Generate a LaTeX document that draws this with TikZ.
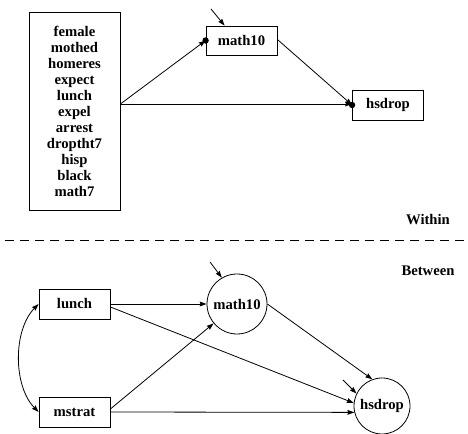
\documentclass[tikz,border=0pt]{standalone}
\usepackage{fontspec}
\setmainfont{Liberation Serif}
\usetikzlibrary{arrows.meta,calc}
\begin{document}
\begin{tikzpicture}[x=0.75pt,y=-0.75pt,
  every node/.style={font=\bfseries\fontsize{11}{12}\selectfont, inner sep=0pt},
  rbox/.style={draw, line width=0.6pt, minimum width=53.25pt, minimum height=22.5pt},
  circ/.style={draw, line width=0.6pt, circle},
  arr/.style={line width=0.6pt, -{Stealth[length=5.2pt,width=3.6pt,inset=0.6pt]}},
  darr/.style={line width=0.6pt, {Stealth[length=5.2pt,width=3.6pt,inset=0.6pt]}-{Stealth[length=5.2pt,width=3.6pt,inset=0.6pt]}},
  plain/.style={font=\bfseries\fontsize{11}{12}\selectfont}]
\useasboundingbox (0,0) rectangle (468,434);
% ---------- Within ----------
\node[draw, line width=0.6pt, minimum width=68.25pt, minimum height=148.5pt, align=center] (X) at (74.5,111)
  {female\\mothed\\homeres\\expect\\lunch\\expel\\arrest\\droptht7\\hisp\\black\\math7};
\node[rbox, minimum height=21.75pt] (M1) at (241.5,40.5) {math10};
\node[rbox] (H1) at (388,105) {hsdrop};
\coordinate (Xo) at ($(X.east)+(0,-7)$);
\fill (M1.west) circle (3.2);
\fill (H1.west) circle (3.2);
\draw[arr] (Xo) -- (M1.west);
\draw[arr] (Xo) -- (Xo -| H1.west);
\draw[arr] ($(M1.east)+(0,-1)$) -- (H1.west);
\coordinate (r1) at (211,9);
\draw[arr] (r1) -- ($(M1.north west)+(19,0)$);
% ---------- separator ----------
\node[plain] (W) at (428,220) {Within};
\draw[line width=0.6pt, dash pattern=on 6.75pt off 4.5pt] (5,240) -- (468,240);
\node[plain] (B) at (428,271) {Between};
% ---------- Between ----------
\node[rbox] (L2) at (74.5,304) {lunch};
\node[rbox] (S2) at (74.5,412) {mstrat};
\node[circ, minimum size=45pt] (M2) at (237,304) {math10};
\node[circ, minimum size=42pt] (H2) at (382,406) {hsdrop};
\draw[darr] (L2.west) .. controls (13,330) and (13,386) .. (S2.west);
\draw[arr] (L2.east) -- (M2.west);
\draw[arr] ($(L2.east)+(0,3)$) -- (H2.174);
\draw[arr] ($(S2.east)+(0,-3)$) -- (M2);
\draw[arr] (S2.east) -- (H2.193);
\draw[arr] (M2.east) -- (H2.110);
\coordinate (r2) at (210,262);
\draw[arr] (r2) -- (M2.120);
\coordinate (r3) at (343,380);
\draw[arr] (r3) -- (H2.154);
\end{tikzpicture}
\end{document}
